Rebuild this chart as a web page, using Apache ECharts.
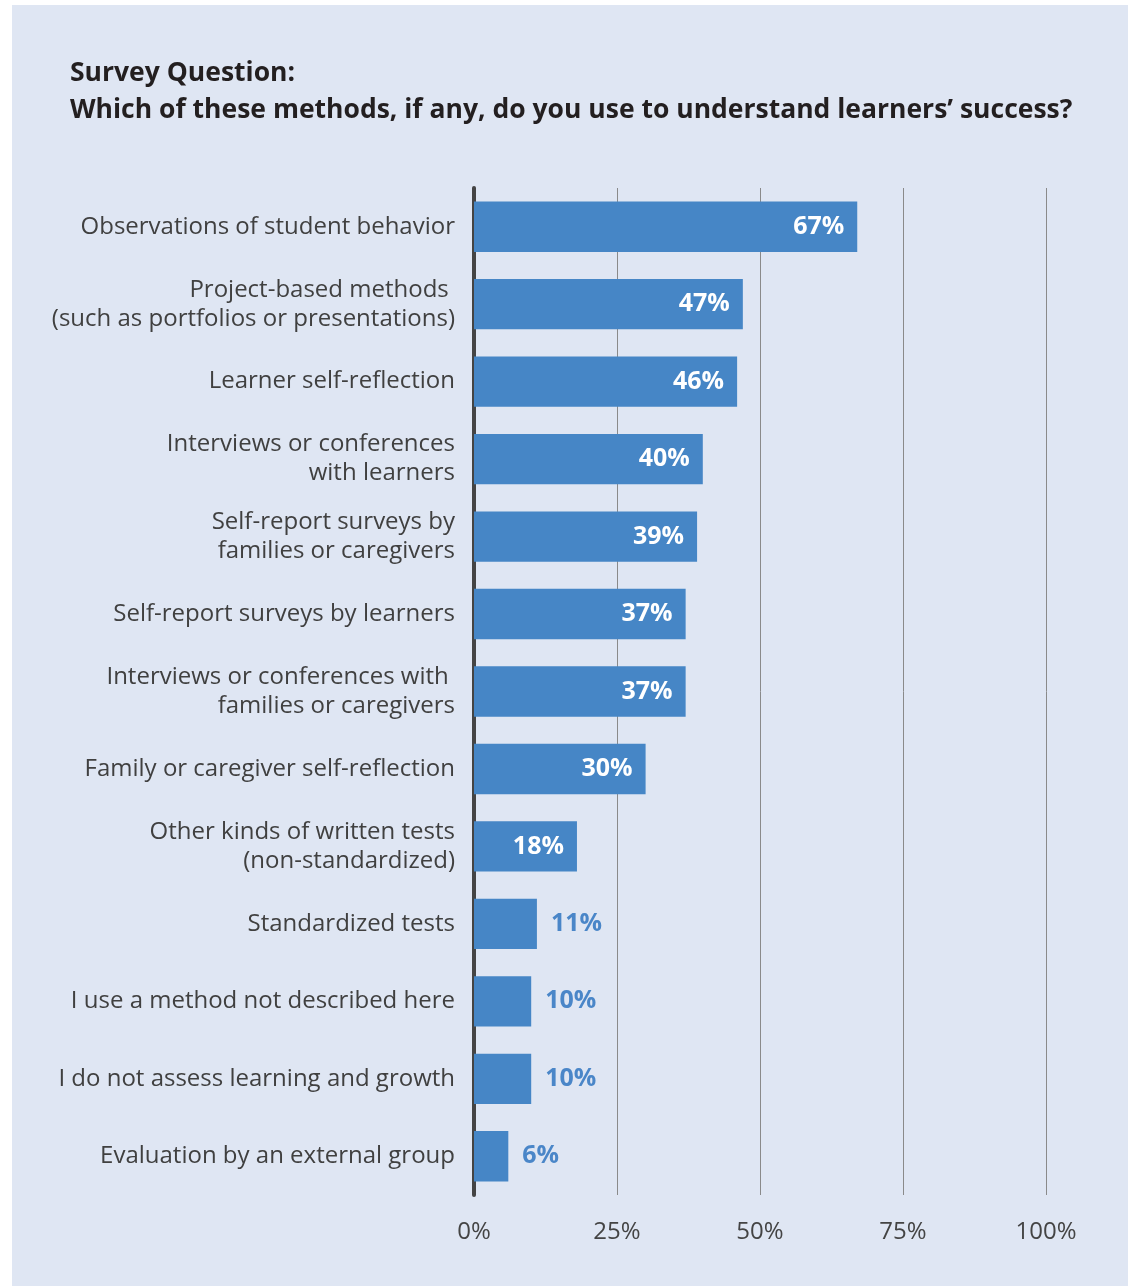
<!DOCTYPE html>
<html>
<head>
<meta charset="utf-8">
<script src="https://cdn.jsdelivr.net/npm/echarts@6/dist/echarts.min.js"></script>
<style>
  html, body { margin: 0; padding: 0; background: #ffffff; }
  #chart { width: 1128px; height: 1287px; }
</style>
</head>
<body>
<div id="chart"></div>
<script>
// Survey responses: share of respondents using each method
const categories = [
  'Observations of student behavior',
  'Project-based methods \n(such as portfolios or presentations)',
  'Learner self-reflection',
  'Interviews or conferences\nwith learners',
  'Self-report surveys by\nfamilies or caregivers',
  'Self-report surveys by learners',
  'Interviews or conferences with \nfamilies or caregivers',
  'Family or caregiver self-reflection',
  'Other kinds of written tests\n(non-standardized)',
  'Standardized tests',
  'I use a method not described here',
  'I do not assess learning and growth',
  'Evaluation by an external group'
];
const values = [67, 47, 46, 40, 39, 37, 37, 30, 18, 11, 10, 10, 6];
const tickValues = [0, 25, 50, 75, 100];

const FONT = '"Open Sans", Lato, sans-serif';
const BAR = '#4686c6';

// Long bars carry their label inside in white; short bars get it outside in blue
const seriesData = values.map(v => ({
  value: v,
  label: v >= 15
    ? { position: 'insideRight', distance: 13, color: '#ffffff' }
    : { position: 'right', distance: 14, color: '#4a86c8' }
}));

const chart = echarts.init(document.getElementById('chart'), null, { renderer: 'canvas' });
chart.setOption({
  animation: false,
  backgroundColor: '#ffffff',
  graphic: [{
    type: 'rect',
    z: -10,
    shape: { x: 12, y: 5, width: 1116, height: 1281 },
    style: { fill: '#dfe6f3' }
  }],
  title: {
    text: 'Survey Question:\nWhich of these methods, if any, do you use to understand learners\u2019 success?',
    left: 70,
    top: 55,
    padding: 0,
    textStyle: {
      fontFamily: FONT,
      fontSize: 26.5,
      fontWeight: 'bold',
      color: '#231f20',
      lineHeight: 37
    }
  },
  grid: { left: 474, right: 82, top: 188, bottom: 92, containLabel: false },
  xAxis: {
    type: 'value',
    min: tickValues[0],
    max: tickValues[tickValues.length - 1],
    interval: 25,
    axisLine: { show: false },
    axisTick: { show: false },
    splitLine: { show: true, lineStyle: { color: '#8a8a8a', width: 1 } },
    axisLabel: {
      formatter: v => v + '%',
      fontFamily: FONT,
      fontSize: 24,
      color: '#444444',
      margin: 25
    }
  },
  yAxis: {
    type: 'category',
    inverse: true,
    data: categories,
    axisLine: { show: true, lineStyle: { color: '#444444', width: 4 } },
    axisTick: { show: false },
    axisLabel: {
      fontFamily: FONT,
      fontSize: 24,
      color: '#404040',
      lineHeight: 29,
      margin: 19,
      align: 'right'
    }
  },
  series: [{
    type: 'bar',
    data: seriesData,
    barCategoryGap: '35%',
    itemStyle: { color: BAR },
    label: {
      show: true,
      formatter: p => p.value + '%',
      fontFamily: FONT,
      fontSize: 25,
      fontWeight: 'bold'
    },
    z: 1
  }]
});
</script>
</body>
</html>
